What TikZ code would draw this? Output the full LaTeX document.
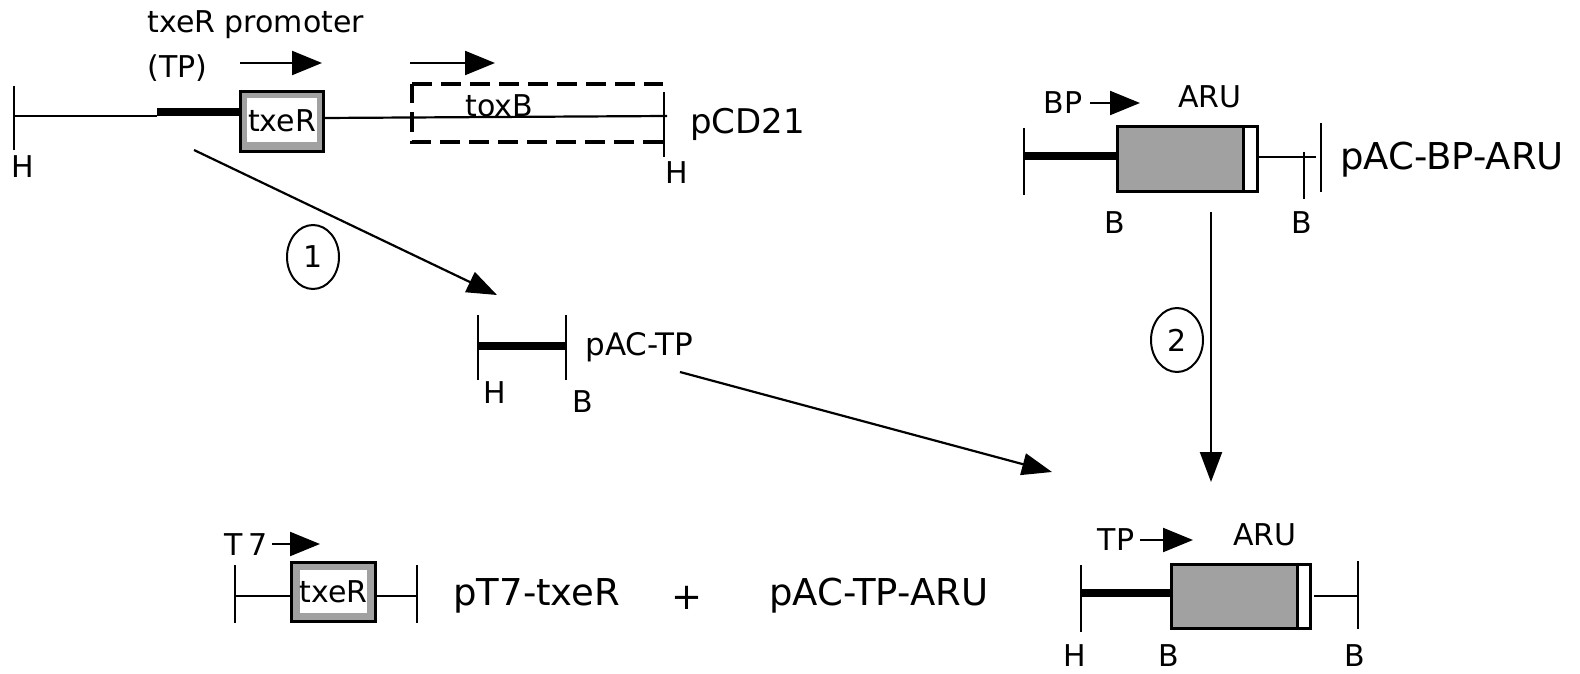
\documentclass[tikz,border=0pt]{standalone}
\usepackage{fontspec}
\setmainfont{DejaVu Sans}
\usepackage{tikz}
\usetikzlibrary{arrows.meta,shapes.geometric}
\definecolor{boxgray}{gray}{0.63}
\tikzset{
  lbl/.style={inner sep=0pt,font=\fontsize{15}{17}\selectfont},
  plasmid/.style={inner sep=0pt,anchor=west,font=\fontsize{18.5}{21}\selectfont},
  dna/.style={line width=1.1pt},
  prom/.style={line width=4pt},
  endtick/.style={line width=1.3pt},
  gene/.style={draw=black,fill=boxgray,line width=1.5pt},
  tail/.style={draw=black,fill=white,line width=1.5pt},
  inner/.style={fill=white,inner sep=0pt,minimum width=35pt,minimum height=22pt,lbl},
  promarrow/.style={line width=1.1pt,-{Triangle[length=15pt,width=12pt]}},
  bigarrow/.style={line width=1.1pt,-{Triangle[length=15pt,width=11pt]}},
  stepnum/.style={draw,ellipse,line width=1pt,inner sep=0pt,minimum width=26pt,minimum height=32pt,lbl}
}

\begin{document}
\begin{tikzpicture}[x=0.5pt,y=-0.5pt]
\useasboundingbox (0,0) rectangle (1580,674);

% pCD21
\draw[endtick] (14,86) -- (14,150);
\draw[dna] (14,116) -- (157,116);
\draw[prom] (157,112) -- (240,112);
\draw[gene] (240,92) rectangle (323,152);
\node[inner] (txeRa) at (282,120.5) {txeR};
\draw[dna] (323,118) -- (667,116);
\draw[line width=1.8pt,dash pattern=on 10pt off 4.5pt] (412,84) -- (663,84) (663,142) -- (412,142) -- (412,84);
\node[lbl] (toxB) at (499,106) {toxB};
\draw[endtick] (664,92) -- (664,157);
\node[lbl] (Ha) at (23,167) {H};
\node[lbl] (Hb) at (677,173) {H};
\node[plasmid,font=\fontsize{17}{20}\selectfont] (pCD) at (690,124) {pCD21};
\node[lbl,anchor=west] (tpname) at (147,25) {txeR promoter};
\node[lbl,anchor=west] (tpabbr) at (147,68) {(TP)};
\draw[promarrow] (240,63) -- (322,63);
\draw[promarrow] (410,63) -- (495,63);

% step 1
\coordinate (s1from) at (194,150);
\coordinate (s1to) at (497,295);
\draw[bigarrow] (s1from) -- (s1to);
\node[stepnum] (one) at (313,257) {1};

% pAC-TP
\draw[endtick] (478,315) -- (478,380);
\draw[endtick] (566,315) -- (566,380);
\draw[prom] (478,346) -- (566,346);
\node[lbl] (Hc) at (495,393) {H};
\node[lbl] (Ba) at (583,402) {B};
\node[plasmid,font=\fontsize{15.5}{18}\selectfont] (pACTP) at (585,347) {pAC-TP};
\coordinate (s3from) at (680,372);
\coordinate (s3to) at (1052,472);
\draw[bigarrow] (s3from) -- (s3to);

% pAC-BP-ARU
\draw[endtick] (1024,128) -- (1024,195);
\draw[prom] (1024,156) -- (1117,156);
\draw[gene] (1117,127) rectangle (1243,191);
\draw[tail] (1243,127) rectangle (1257,191);
\draw[dna] (1257,157) -- (1316,157);
\draw[endtick] (1304,152) -- (1304,199);
\draw[endtick] (1321,123) -- (1321,192);
\node[lbl] (BPname) at (1063,103) {BP};
\draw[promarrow] (1090,103) -- (1140,103);
\node[lbl] (ARUa) at (1210,97) {ARU};
\node[lbl] (Bb) at (1115,223) {B};
\node[lbl] (Bc) at (1302,223) {B};
\node[plasmid] (pACBP) at (1340,160) {pAC-BP-ARU};

% step 2
\coordinate (s2from) at (1211,212);
\coordinate (s2to) at (1211,482);
\draw[bigarrow] (s2from) -- (s2to);
\node[stepnum] (two) at (1177,340) {2};

% pAC-TP-ARU map
\draw[endtick] (1081,565) -- (1081,632);
\draw[prom] (1081,593) -- (1171,593);
\draw[gene] (1171,564) rectangle (1297,628);
\draw[tail] (1297,564) rectangle (1310,628);
\draw[dna] (1314,596) -- (1358,596);
\draw[endtick] (1358,561) -- (1358,629);
\node[lbl] (TPname) at (1116,540) {TP};
\draw[promarrow] (1140,540) -- (1193,540);
\node[lbl] (ARUb) at (1265,535) {ARU};
\node[lbl] (Hd) at (1075,656) {H};
\node[lbl] (Bd) at (1169,656) {B};
\node[lbl] (Be) at (1355,656) {B};

% pT7-txeR + pAC-TP-ARU
\draw[endtick] (235,565) -- (235,623);
\draw[dna] (235,596) -- (291,596);
\draw[gene] (291,562) rectangle (375,621);
\node[inner,minimum width=33.5pt,minimum height=21.5pt] (txeRb) at (333.5,591.5) {txeR};
\draw[dna] (375,596) -- (417,596);
\draw[endtick] (417,565) -- (417,623);
\node[lbl] (T7name) at (246,545) {T\,7};
\draw[promarrow] (272,544) -- (320,544);
\node[plasmid] (pT7) at (453,596) {pT7-txeR};
\node[plasmid,anchor=center] (plus) at (687,598) {+};
\node[plasmid] (pACTPARU) at (769,596) {pAC-TP-ARU};
\end{tikzpicture}
\end{document}
